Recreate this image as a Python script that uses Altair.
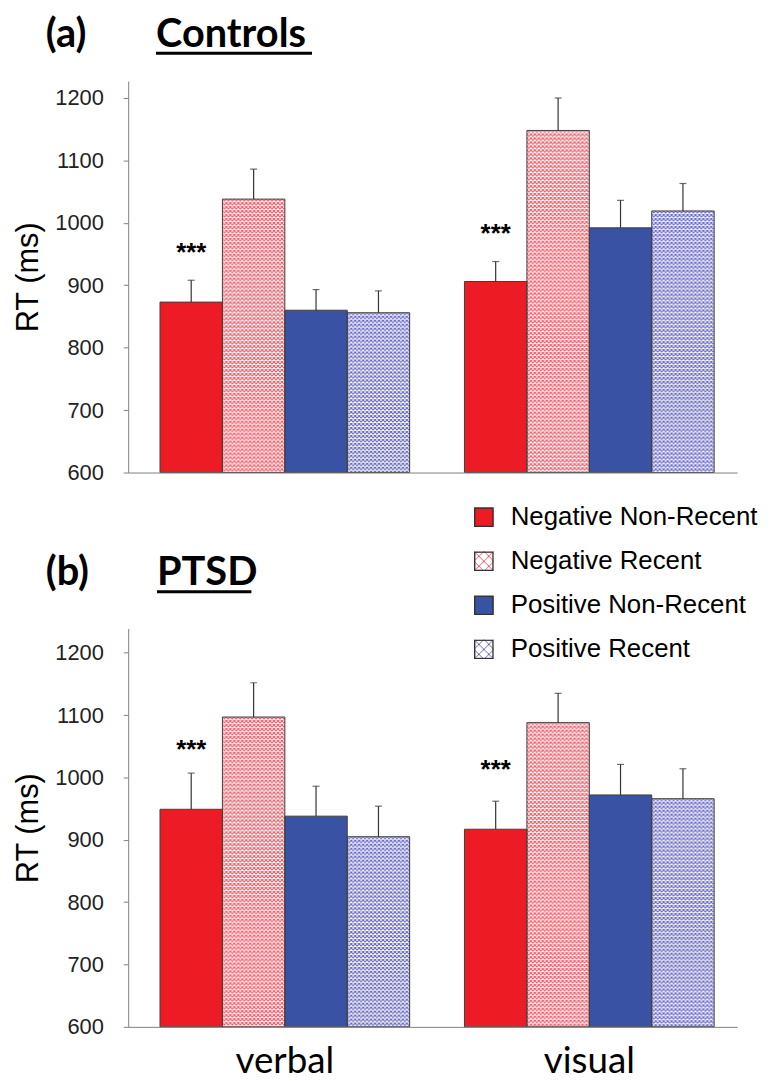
import altair as alt
import pandas as pd
from urllib.parse import quote

# ---------------- data ----------------
conditions = ["Negative Non-Recent", "Negative Recent", "Positive Non-Recent", "Positive Recent"]
modalities = ["verbal", "visual"]

controls_verbal = [873, 1038, 860, 856]
controls_visual = [906, 1148, 992, 1019]
controls_verbal_err = [35, 48, 33, 35]
controls_visual_err = [32, 52, 44, 44]

ptsd_verbal = [949, 1097, 938, 905]
ptsd_visual = [917, 1088, 972, 966]
ptsd_verbal_err = [58, 55, 48, 49]
ptsd_visual_err = [45, 47, 49, 48]

star_text = "***"
controls_star_rt = [958, 988]
ptsd_star_rt = [1051, 1019]

y_ticks = [600, 700, 800, 900, 1000, 1100, 1200]
panel_letters = ["(a)", "(b)"]
panel_names = ["Controls", "PTSD"]

# ---------------- styles ----------------
RED = "#ED1C24"
BLUE = "#3A52A4"
RED_LINE = "#EF5A68"
BLUE_LINE = "#6767C2"
FALLBACK = [RED, "#F6A9AE", BLUE, "#ABABDD"]
hatched = [conditions[1], conditions[3]]


def hatch_uri(color, period=4, width=1.0, size=None, border=None, solid=None):
    p = period
    dims = f" width='{size}' height='{size}'" if size else ""
    if solid:
        body = f"<rect x='0' y='0' width='{size}' height='{size}' fill='{solid}'/>"
    else:
        body = (f"<defs><pattern id='h' width='{p}' height='{p}' patternUnits='userSpaceOnUse'>"
                f"<rect width='{p}' height='{p}' fill='white'/>"
                f"<path d='M-1,-1L{p+1},{p+1}M{p+1},-1L-1,{p+1}' stroke='{color}' stroke-width='{width}'/>"
                f"</pattern></defs><rect width='100%' height='100%' fill='url(#h)'/>")
    if border:
        body += (f"<rect x='0.75' y='0.75' width='{size-1.5}' height='{size-1.5}' fill='none' "
                 f"stroke='{border}' stroke-width='1.5'/>")
    svg = f"<svg xmlns='http://www.w3.org/2000/svg'{dims}>{body}</svg>"
    return "data:image/svg+xml;charset=utf-8," + quote(svg, safe="")


bar_pattern = {conditions[1]: hatch_uri(RED_LINE, 4, 1.15), conditions[3]: hatch_uri(BLUE_LINE, 4, 1.15)}
legend_icon = {
    conditions[0]: hatch_uri(None, size=20, border="#333333", solid=RED),
    conditions[1]: hatch_uri(RED_LINE, 10, 1.0, size=20, border="#333333"),
    conditions[2]: hatch_uri(None, size=20, border="#333333", solid=BLUE),
    conditions[3]: hatch_uri(BLUE_LINE, 10, 1.0, size=20, border="#333333"),
}


def pick_expr(mapping):
    expr = "''"
    for k, v in reversed(list(mapping.items())):
        expr = f"datum.condition === '{k}' ? '{v}' : ({expr})"
    return expr


def make_df(verbal, visual, verr, viserr):
    rows = []
    for m, vals, errs in zip(modalities, [verbal, visual], [verr, viserr]):
        for c, v, e in zip(conditions, vals, errs):
            rows.append({"modality": m, "condition": c, "rt": v, "err": e})
    return pd.DataFrame(rows)


WIDTH = 613
LABEL_FONT = "Liberation Sans"
CAL_FONT = "Lato"


def panel(df, stars, ymax, height, show_x, letter, name, rel, legend=False):
    xscale = alt.Scale(domain=modalities, paddingInner=0.18, paddingOuter=0.09, align=0.58)
    xaxis = alt.Axis(labels=show_x, ticks=False, title=None, domainColor="#808080",
                     labelFont=CAL_FONT, labelFontSize=37, labelColor="#000000",
                     labelPadding=17, labelAngle=0, zindex=1)
    X = alt.X("modality:N", scale=xscale, axis=xaxis)
    XO = alt.XOffset("condition:N", scale=alt.Scale(domain=conditions, paddingInner=0, paddingOuter=0))
    yscale = alt.Scale(domain=[600, ymax], zero=False, nice=False)
    yaxis = alt.Axis(values=y_ticks, format="d", title="RT (ms)", grid=False, domainColor="#808080",
                     tickColor="#808080", tickSize=5, labelFont=LABEL_FONT, labelFontSize=22,
                     labelColor="#222222", labelPadding=20, titleFont=LABEL_FONT,
                     titleFontSize=31, titleFontWeight="normal", titleColor="#000000",
                     titlePadding=10, zindex=1)
    Y = alt.Y("rt:Q", scale=yscale, axis=yaxis)
    base_y2 = alt.datum(600)

    base = alt.Chart(df)
    bars = base.mark_bar(strokeWidth=0).encode(
        x=X, xOffset=XO, y=Y, y2=base_y2,
        color=alt.Color("condition:N", scale=alt.Scale(domain=conditions, range=FALLBACK), legend=None))
    imgs = base.transform_filter(
        alt.FieldOneOfPredicate(field="condition", oneOf=hatched)
    ).transform_calculate(pattern=pick_expr(bar_pattern)).mark_image(aspect=False).encode(
        x=X, xOffset=XO, y=Y, y2=base_y2, url="pattern:N")
    outline = base.mark_bar(fillOpacity=0, stroke="#404040", strokeWidth=1).encode(
        x=X, xOffset=XO, y=Y, y2=base_y2)
    err = base.transform_calculate(top="datum.rt + datum.err").mark_rule(
        color="#333333", strokeWidth=1.2).encode(x=X, xOffset=XO, y=Y, y2="top:Q")
    caps = base.transform_calculate(rt="datum.rt + datum.err").mark_tick(
        color="#333333", thickness=1.2, size=7, orient="horizontal").encode(
        x=X, xOffset=XO, y=Y)
    star_layer = alt.Chart(stars).mark_text(
        font=LABEL_FONT, fontWeight="bold", fontSize=26, dy=12, baseline="alphabetic",
        color="#000000").encode(x=X, xOffset=XO, y=Y, text="label:N")
    main = alt.layer(bars, imgs, outline, err, caps, star_layer)

    tdf = pd.DataFrame({"letter": [letter], "name": [name]})
    t1 = alt.Chart(tdf).mark_text(font=CAL_FONT, fontWeight="bold", fontSize=40, align="left",
                                  baseline="alphabetic", color="#000000").encode(
        text="letter:N", x=alt.value(rel["lx"]), y=alt.value(rel["by"]))
    t2 = alt.Chart(tdf).mark_text(font=CAL_FONT, fontWeight="bold", fontSize=40, align="left",
                                  baseline="alphabetic", color="#000000").encode(
        text="name:N", x=alt.value(rel["nx"]), y=alt.value(rel["by"]))
    ul = alt.Chart(tdf).mark_rule(color="#000000", strokeWidth=3).encode(
        x=alt.value(rel["nx"]), x2=alt.value(rel["ux2"]), y=alt.value(rel["uy"]))
    layers = [main, t1, t2, ul]

    if legend:
        ldf = pd.DataFrame({"condition": conditions})
        LY = alt.Y("condition:N", scale=alt.Scale(type="point", domain=conditions, range=[-112, 21],
                                                  padding=0), axis=None)
        icons = alt.Chart(ldf).transform_calculate(icon=pick_expr(legend_icon)).mark_image(
            width=20, height=20, aspect=False).encode(
            x=alt.value(348), x2=alt.value(368), y=LY, url="icon:N")
        ltext = alt.Chart(ldf).mark_text(font=LABEL_FONT, fontSize=26, align="left",
                                         baseline="middle", color="#000000").encode(
            x=alt.value(385), y=LY, text="condition:N")
        layers.append(alt.layer(icons, ltext))

    return alt.layer(*layers).resolve_scale(y="independent", x="independent").properties(
        width=WIDTH, height=height)


controls = make_df(controls_verbal, controls_visual, controls_verbal_err, controls_visual_err)
ptsd = make_df(ptsd_verbal, ptsd_visual, ptsd_verbal_err, ptsd_visual_err)
stars_c = pd.DataFrame({"modality": modalities, "condition": [conditions[0]] * 2,
                        "rt": controls_star_rt, "label": [star_text] * 2})
stars_p = pd.DataFrame({"modality": modalities, "condition": [conditions[0]] * 2,
                        "rt": ptsd_star_rt, "label": [star_text] * 2})

top = panel(controls, stars_c, 1227, 394, False, panel_letters[0], panel_names[0],
            {"lx": -83, "nx": 28, "by": -34, "uy": -28, "ux2": 185})
bottom = panel(ptsd, stars_p, 1239, 401, True, panel_letters[1], panel_names[1],
               {"lx": -83, "nx": 29, "by": -44, "uy": -37, "ux2": 124}, legend=True)

chart = alt.vconcat(top, bottom, spacing=157, bounds="flush").properties(
    padding={"left": 5, "top": 4, "right": 5, "bottom": 14}
).configure_view(stroke=None)

chart.save("out.html", embed_options={"renderer": "svg", "actions": False})
